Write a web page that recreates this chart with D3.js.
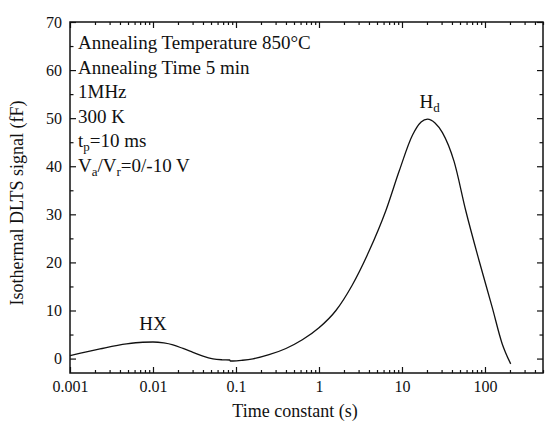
<!DOCTYPE html>
<html lang="en">
  <head>
    <meta charset="utf-8">
    <title>Isothermal DLTS</title>
    <script type="text/javascript" src="https://cdn.jsdelivr.net/npm/d3@7"></script>
    <style type="text/css">
      body { margin: 0; background: #fff; }
      text { font-family: "Liberation Serif", "Times New Roman", serif; fill: #111; }
    </style>
  </head>
  <body>
    <script type="text/javascript">

      //Size
      var w = 545;
      var h = 423;
      var margin = { top: 22, right: 1, bottom: 50, left: 70 };

      //Data: time constant (s) and signal (fF)
      var tau = [0.001, 0.0023, 0.0048, 0.0075, 0.01, 0.0135, 0.0174, 0.023, 0.0303, 0.04, 0.0528, 0.068, 0.084,
                 0.0855, 0.092, 0.12, 0.16, 0.25, 0.4, 0.63, 1.0, 1.6, 2.5, 4.0, 6.4, 9.25,
                 13.4, 17, 20.3, 25, 30.7, 42.4, 58.6, 84.8, 122, 161, 204];
      var signal = [0.6, 2.0, 3.05, 3.4, 3.45, 3.25, 2.85, 2.1, 1.3, 0.5, -0.06, -0.25, -0.3,
                    -0.5, -0.5, -0.35, -0.06, 0.8, 2.1, 3.9, 6.4, 10.0, 15.2, 22.3, 30.8, 39.0,
                    46.5, 49.2, 49.8, 49.0, 47.0, 41.0, 30.8, 20.4, 10.7, 3.1, -1.1];

      var xDecades = [0.001, 0.01, 0.1, 1, 10, 100];
      var xLabels = ["0.001", "0.01", "0.1", "1", "10", "100"];
      var yMajor = [0, 10, 20, 30, 40, 50, 60, 70];
      var yMinor = [5, 15, 25, 35, 45, 55, 65];

      var notes = ["Annealing Temperature 850°C", "Annealing Time 5 min", "1MHz", "300 K",
                   [["t", ""], ["p", "sub"], ["=10 ms", ""]],
                   [["V", ""], ["a", "sub"], ["/V", ""], ["r", "sub"], ["=0/-10 V", ""]]];

      var data = tau.map(function(t, i) { return { t: t, v: signal[i] }; });

      var x = d3.scaleLog().domain([0.001, 500]).range([margin.left, w - margin.right - 1]);
      var y = d3.scaleLinear().domain([-3, 70]).range([h - margin.bottom, margin.top]);

      var xMinor = [];
      xDecades.forEach(function(d) {
        for (var k = 2; k <= 9; k++) {
          var v = d * k;
          if (v <= 500) xMinor.push(v);
        }
      });

      //Create SVG element
      var svg = d3.select("body")
                  .append("svg")
                  .attr("width", w)
                  .attr("height", h)
                  .attr("font-family", "Liberation Serif, serif");

      var x0 = x.range()[0], x1 = x.range()[1];
      var y0 = y.range()[0], y1 = y.range()[1];

      function styleAxis(g) {
        g.attr("font-family", null);
        g.select(".domain").remove();
        g.selectAll("line").attr("stroke", "#111").attr("stroke-width", 1.2);
        g.selectAll("text").style("font-size", "16px").attr("fill", "#111");
      }

      //Bottom axis
      svg.append("g").attr("transform", "translate(0," + y0 + ")")
         .call(d3.axisBottom(x).tickValues(xDecades).tickFormat(function(d, i) { return xLabels[i]; })
               .tickSizeInner(-6).tickSizeOuter(0).tickPadding(8))
         .call(styleAxis);
      svg.append("g").attr("transform", "translate(0," + y0 + ")")
         .call(d3.axisBottom(x).tickValues(xMinor).tickFormat("").tickSizeInner(-3).tickSizeOuter(0))
         .call(styleAxis);

      //Top axis
      svg.append("g").attr("transform", "translate(0," + y1 + ")")
         .call(d3.axisTop(x).tickValues(xDecades).tickFormat("").tickSizeInner(-6).tickSizeOuter(0))
         .call(styleAxis);
      svg.append("g").attr("transform", "translate(0," + y1 + ")")
         .call(d3.axisTop(x).tickValues(xMinor).tickFormat("").tickSizeInner(-3).tickSizeOuter(0))
         .call(styleAxis);

      //Left axis
      svg.append("g").attr("transform", "translate(" + x0 + ",0)")
         .call(d3.axisLeft(y).tickValues(yMajor).tickSizeInner(-6).tickSizeOuter(0).tickPadding(8))
         .call(styleAxis);
      svg.append("g").attr("transform", "translate(" + x0 + ",0)")
         .call(d3.axisLeft(y).tickValues(yMinor).tickFormat("").tickSizeInner(-3.5).tickSizeOuter(0))
         .call(styleAxis);

      //Right axis
      svg.append("g").attr("transform", "translate(" + x1 + ",0)")
         .call(d3.axisRight(y).tickValues(yMajor).tickFormat("").tickSizeInner(-6).tickSizeOuter(0))
         .call(styleAxis);
      svg.append("g").attr("transform", "translate(" + x1 + ",0)")
         .call(d3.axisRight(y).tickValues(yMinor).tickFormat("").tickSizeInner(-3.5).tickSizeOuter(0))
         .call(styleAxis);

      //Frame
      svg.append("rect")
         .attr("x", x0).attr("y", y1)
         .attr("width", x1 - x0).attr("height", y0 - y1)
         .attr("fill", "none").attr("stroke", "#111").attr("stroke-width", 1.5);

      //Curve
      var line = d3.line()
                   .x(function(d) { return x(d.t); })
                   .y(function(d) { return y(d.v); })
                   .curve(d3.curveMonotoneX);

      svg.append("path")
         .datum(data)
         .attr("d", line)
         .attr("fill", "none")
         .attr("stroke", "#111")
         .attr("stroke-width", 1.3);

      //Axis titles
      svg.append("text")
         .attr("x", 295).attr("y", 417)
         .attr("text-anchor", "middle")
         .style("font-size", "18px")
         .text("Time constant (s)");

      svg.append("text")
         .attr("transform", "translate(23,203) rotate(-90)")
         .attr("text-anchor", "middle")
         .style("font-size", "18px")
         .text("Isothermal DLTS signal (fF)");

      //Text block
      function addRich(sel, parts) {
        if (typeof parts === "string") { sel.text(parts); return; }
        parts.forEach(function(p) {
          var ts = sel.append("tspan").text(p[0]);
          if (p[1] === "sub") ts.attr("baseline-shift", "-28%").style("font-size", "13px");
        });
      }

      notes.forEach(function(n, i) {
        var t = svg.append("text")
                   .attr("x", 78)
                   .attr("y", 49 + i * 24.5)
                   .style("font-size", "19px");
        addRich(t, n);
      });

      //Peak labels
      var hx = svg.append("text").attr("x", x(0.01)).attr("y", 330)
                  .attr("text-anchor", "middle").style("font-size", "19px");
      addRich(hx, "HX");

      var hd = svg.append("text").attr("x", x(20.3) + 2).attr("y", 108)
                  .attr("text-anchor", "middle").style("font-size", "19px");
      addRich(hd, [["H", ""], ["d", "sub"]]);

    </script>
  </body>
</html>
